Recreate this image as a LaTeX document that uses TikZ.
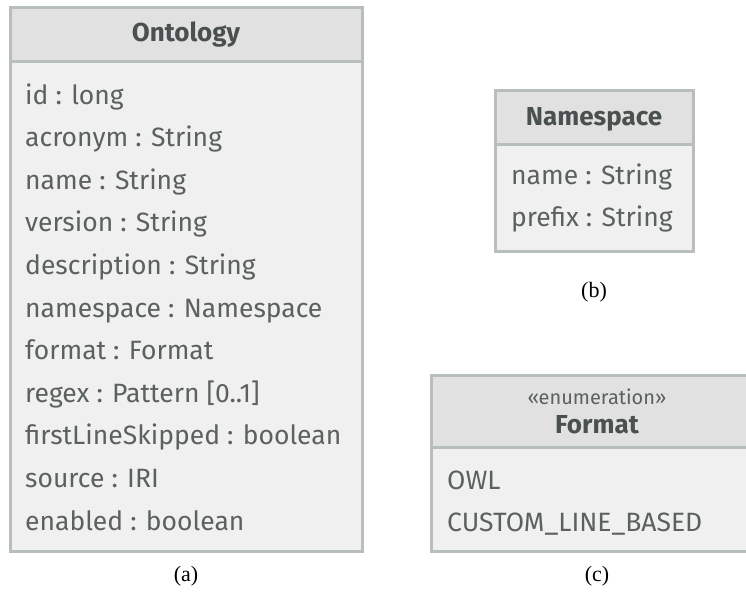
\documentclass[tikz,border=0pt]{standalone}
\usepackage{fontspec}
\setmainfont{Liberation Serif}
\newfontfamily\umlfont{Fira Sans}
\usetikzlibrary{calc}

\definecolor{umlline}{HTML}{B8BDBD}
\definecolor{umlhead}{HTML}{E1E1E1}
\definecolor{umlbody}{HTML}{F0F0F0}
\definecolor{umltext}{HTML}{5B6060}
\definecolor{umltitle}{HTML}{4A5050}

\tikzset{
  umlbox/.style={draw=umlline, line width=3pt},
  attr/.style={anchor=base west, inner sep=0pt, text=umltext,
    font=\umlfont\fontsize{26.5}{30}\selectfont},
  classtitle/.style={inner sep=0pt, text=umltitle,
    font=\umlfont\bfseries\fontsize{26}{30}\selectfont},
  stereo/.style={inner sep=0pt, text=umltext,
    font=\umlfont\fontsize{20}{24}\selectfont},
  subcap/.style={inner sep=0pt, font=\fontsize{22}{26}\selectfont}
}

\begin{document}
\begin{tikzpicture}[x=1pt,y=-1pt]
\useasboundingbox (0,0) rectangle (746,601);
\clip (0,0) rectangle (746,601);

% (a) Ontology
\fill[umlhead] (10,8) rectangle (362,62);
\fill[umlbody] (10,62) rectangle (362,551);
\draw[umlbox] (10,8) rectangle (362,551);
\draw[umlbox] (10,62) -- (362,62);
\node[classtitle] (ontology) at (186,35) {Ontology};
\foreach \t [count=\i] in {{id : long}, {acronym : String}, {name : String},
    {version : String}, {description : String}, {namespace : Namespace},
    {format : Format}, {regex : Pattern [0..1]}, {firstLineSkipped : boolean},
    {source : IRI}, {enabled : boolean}}
  \node[attr] (ont-\i) at (25,61.5+42.6*\i) {\t};
\node[subcap] (capa) at (186,576) {(a)};

% (b) Namespace
\fill[umlhead] (495,91) rectangle (693,145);
\fill[umlbody] (495,145) rectangle (693,252);
\draw[umlbox] (495,91) rectangle (693,252);
\draw[umlbox] (495,145) -- (693,145);
\node[classtitle] (namespace) at (594,119) {Namespace};
\node[attr] (ns-1) at (511,185) {name : String};
\node[attr] (ns-2) at (511,227) {prefix : String};
\node[subcap] (capb) at (594,292) {(b)};

% (c) Format
\fill[umlhead] (431,375) rectangle (760,447);
\fill[umlbody] (431,447) rectangle (760,551);
\draw[umlbox] (431,375) rectangle (760,551);
\draw[umlbox] (431,447) -- (760,447);
\node[stereo] (enumstereo) at (597,397) {«enumeration»};
\node[classtitle] (format) at (597,425) {Format};
\node[attr] (fmt-1) at (447,489) {OWL};
\node[attr] (fmt-2) at (447,531) {CUSTOM\_LINE\_BASED};
\node[subcap] (capc) at (597,576) {(c)};
\end{tikzpicture}
\end{document}
